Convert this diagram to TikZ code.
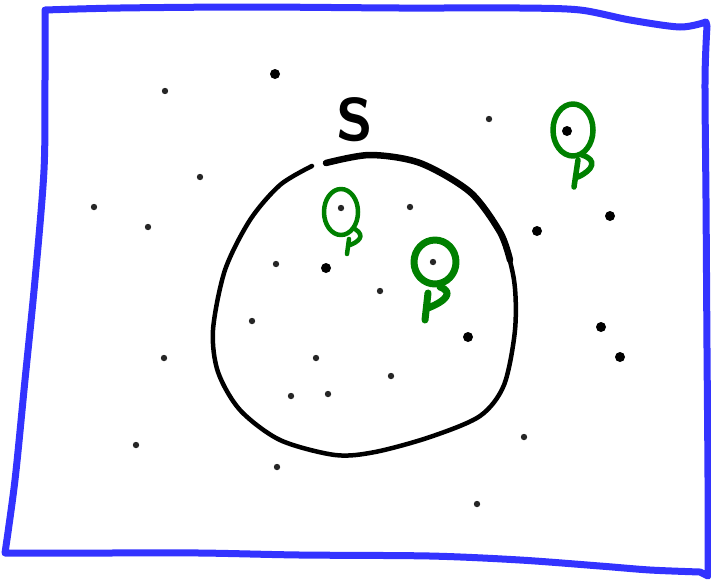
\documentclass[tikz,border=0pt]{standalone}
\usetikzlibrary{positioning}
\definecolor{penblue}{RGB}{51,51,255}
\definecolor{pengreen}{RGB}{0,128,0}
\tikzset{
  frame/.style={draw=penblue, line width=7pt, line cap=round, line join=round},
  setline/.style={draw=black, line width=4.5pt, line cap=round},
  pin/.style={draw=pengreen, line width=5.5pt, line cap=round, line join=round},
  bigpt/.style={fill=black},
  smallpt/.style={fill=black!85}
}

\begin{document}
\begin{tikzpicture}[x=1pt, y=-1pt]
\useasboundingbox (0,0) rectangle (711,582);
% paper
\draw[frame] plot[smooth] coordinates {(45,10) (120,8) (250,7) (400,8) (520,8) (580,10) (630,20) (680,27) (706,22)}
  -- plot[smooth] coordinates {(707,26) (705,80) (706,200) (707,350) (708,480) (708,576)}
  -- plot[smooth] coordinates {(700,572) (650,570) (600,566) (520,560) (430,556) (300,555) (200,553) (100,553) (5,553)}
  -- plot[smooth] coordinates {(5,553) (15,480) (25,380) (35,280) (44,170) (45,80) (45,10)};
% the set
\draw[setline] plot[smooth] coordinates {(312,166) (280,185) (250,220) (225,270) (213,330) (218,372) (240,410) (280,440) (335,455) (375,452) (430,437) (480,416) (504,385) (515,330) (514,280) (500,232) (470,192) (420,163) (370,155) (326,163)};
\draw[setline, line width=6.5pt] plot[smooth] coordinates {(510,260) (500,232) (470,192) (420,163) (370,155) (326,163)};
\node[font=\fontsize{60}{60}\selectfont\sffamily\bfseries, inner sep=0pt] (slabel) at (355,120) {S};
% points
\foreach \px/\py in {275/74, 567/131, 537/231, 610/216, 468/337, 601/327, 620/357, 326/268}
  \fill[bigpt] (\px,\py) circle[radius=5pt];
\foreach \px/\py in {489/119, 165/91, 200/177, 94/207, 148/227, 410/207, 341/208, 276/264, 433/262, 380/291, 252/321, 164/358, 316/358, 391/376, 291/396, 328/394, 524/437, 136/445, 277/467, 477/504}
  \fill[smallpt] (\px,\py) circle[radius=3.2pt];
% picked points
\draw[pin, line width=4.5pt] (341,212) ellipse (17 and 23);
\draw[pin, line width=4.5pt] (355,229) .. controls (366,236) and (358,242) .. (350,245) (349,239) -- (347,254);
\draw[pin, line width=7pt] (435,262) ellipse (21 and 22);
\draw[pin, line width=7pt] (440,287) .. controls (454,292) and (446,301) .. (428,308) (428,293) -- (425,320);
\draw[pin, line width=5.5pt] (573,130) ellipse (20 and 26);
\draw[pin, line width=5.5pt] (582,155) .. controls (598,160) and (593,170) .. (578,177) (578,160) -- (574,187);
\end{tikzpicture}
\end{document}
